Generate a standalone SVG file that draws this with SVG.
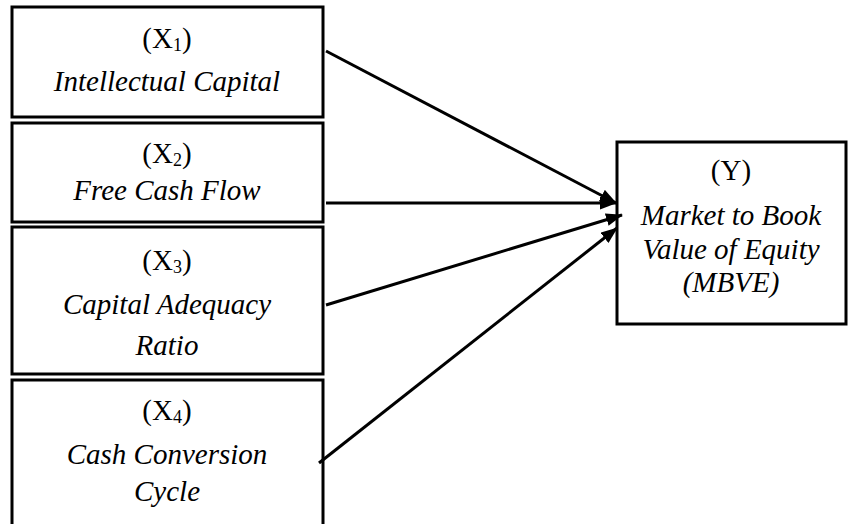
<svg xmlns="http://www.w3.org/2000/svg" width="848" height="524" viewBox="0 0 848 524">
<style>
.box{fill:#fff;stroke:#000;stroke-width:3}
.t{font-family:"Liberation Serif","Times New Roman",serif;font-size:29px;fill:#000;text-anchor:middle}
.i{font-style:italic}
.sub{font-size:18px}
.c{stroke:#000;stroke-width:3;fill:none;marker-end:url(#ah)}
</style>
<defs>
<marker id="ah" markerUnits="userSpaceOnUse" markerWidth="18" markerHeight="14" refX="16" refY="6.5" orient="auto">
<path d="M0,0 L17,6.5 L0,13 z" fill="#000"/>
</marker>
</defs>
<rect width="848" height="524" fill="#fff"/>
<g id="x1">
<rect class="box" x="12" y="7" width="311" height="110"/>
<text class="t" x="167" y="48">(X<tspan class="sub" dy="3">1</tspan><tspan dy="-3">)</tspan></text>
<text class="t i" x="167" y="91">Intellectual Capital</text>
</g>
<g id="x2">
<rect class="box" x="12" y="123" width="311" height="99"/>
<text class="t" x="167" y="163">(X<tspan class="sub" dy="3">2</tspan><tspan dy="-3">)</tspan></text>
<text class="t i" x="167" y="200">Free Cash Flow</text>
</g>
<g id="x3">
<rect class="box" x="12" y="227" width="311" height="147"/>
<text class="t" x="167" y="270">(X<tspan class="sub" dy="3">3</tspan><tspan dy="-3">)</tspan></text>
<text class="t i" x="167" y="314">Capital Adequacy</text>
<text class="t i" x="167" y="355">Ratio</text>
</g>
<g id="x4">
<rect class="box" x="12" y="380" width="311" height="160"/>
<text class="t" x="167" y="420">(X<tspan class="sub" dy="3">4</tspan><tspan dy="-3">)</tspan></text>
<text class="t i" x="167" y="464">Cash Conversion</text>
<text class="t i" x="167" y="501">Cycle</text>
</g>
<g id="y">
<rect class="box" x="617" y="142" width="229" height="182"/>
<text class="t" x="731" y="180">(Y)</text>
<text class="t i" x="731" y="225">Market to Book</text>
<text class="t i" x="731" y="259">Value of Equity</text>
<text class="t i" x="731" y="292">(MBVE)</text>
</g>
<g id="connectors">
<line class="c" x1="326" y1="51" x2="616" y2="203"/>
<line class="c" x1="326" y1="203" x2="616" y2="203"/>
<line class="c" x1="326" y1="305" x2="622" y2="215"/>
<line class="c" x1="319" y1="463" x2="617" y2="228"/>
</g>
</svg>
